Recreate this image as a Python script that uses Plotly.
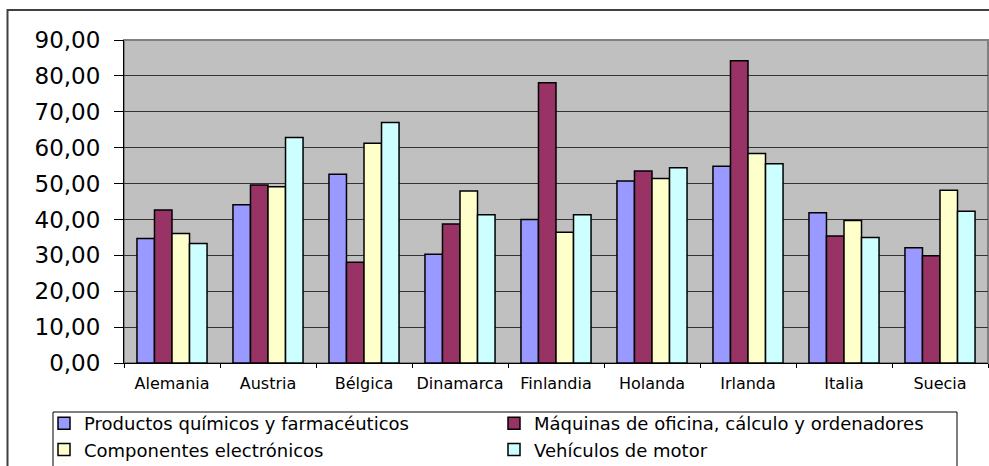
import plotly.graph_objects as go

# Countries on the category axis
countries = ["Alemania", "Austria", "Bélgica", "Dinamarca", "Finlandia",
             "Holanda", "Irlanda", "Italia", "Suecia"]

# One list of values per sector
quimicos = [34.7, 44.1, 52.6, 30.3, 40.0, 50.7, 54.8, 41.9, 32.1]
maquinas = [42.6, 49.6, 28.1, 38.7, 78.1, 53.5, 84.2, 35.4, 29.9]
componentes = [36.1, 49.1, 61.2, 47.9, 36.4, 51.4, 58.4, 39.7, 48.1]
vehiculos = [33.3, 62.8, 67.0, 41.3, 41.3, 54.4, 55.5, 35.0, 42.3]

series_names = ["Productos químicos y farmacéuticos",
                "Máquinas de oficina, cálculo y ordenadores",
                "Componentes electrónicos",
                "Vehículos de motor"]
series_values = [quimicos, maquinas, componentes, vehiculos]
series_colors = ["#9999FF", "#993366", "#FFFFCC", "#CCFFFF"]

y_ticks = [0, 10, 20, 30, 40, 50, 60, 70, 80, 90]

W, H = 989, 466
ML, MR, MT, MB = 124, 1, 40, 103
PW, PH = W - ML - MR, H - MT - MB


def px2x(px):
    return (px - ML) / PW


def py2y(py):
    return (H - MB - py) / PH


fig = go.Figure()
for name, vals, col in zip(series_names, series_values, series_colors):
    fig.add_trace(go.Bar(
        x=countries, y=vals, name=name,
        marker=dict(color=col, line=dict(color="black", width=1.5)),
    ))

font_family = "DejaVu Sans, Liberation Sans, Arial, sans-serif"

fig.update_layout(
    width=W, height=H,
    margin=dict(l=ML, r=MR, t=MT, b=MB, autoexpand=False),
    paper_bgcolor="white",
    plot_bgcolor="#C0C0C0",
    separators=",.",
    barmode="group",
    bargap=0.27,
    bargroupgap=0,
    font=dict(family=font_family, color="black"),
    showlegend=True,
    legend=dict(
        orientation="h",
        x=px2x(44), y=py2y(405),
        xanchor="left", yanchor="top",
        bgcolor="rgba(0,0,0,0)",
        borderwidth=0,
        font=dict(size=18, family=font_family),
        entrywidth=405, entrywidthmode="pixels",
        traceorder="normal",
    ),
    xaxis=dict(
        type="category",
        showgrid=False,
        showline=True, linecolor="black", linewidth=1,
        ticks="outside", tickson="boundaries", ticklen=4,
        tickcolor="black",
        tickfont=dict(size=16),
        ticklabelstandoff=6,
        zeroline=False,
    ),
    yaxis=dict(
        range=[0, 90],
        tickvals=y_ticks,
        tickformat=".2f",
        showgrid=True, gridcolor="#333333", gridwidth=1,
        showline=True, linecolor="black", linewidth=1,
        ticks="outside", ticklen=9, tickcolor="black",
        ticklabelstandoff=9,
        tickfont=dict(size=23),
        zeroline=False,
    ),
    shapes=[
        # plot-area frame (top and right edges)
        dict(type="rect", xref="paper", yref="paper", x0=0, x1=1, y0=0, y1=1,
             line=dict(color="#808080", width=2), layer="below"),
        # chart outer frame
        dict(type="rect", xref="paper", yref="paper",
             x0=px2x(7.5), x1=px2x(1000), y0=py2y(490), y1=py2y(10),
             line=dict(color="#404040", width=2)),
        # legend frame
        dict(type="rect", xref="paper", yref="paper",
             x0=px2x(53), x1=px2x(957), y0=py2y(490), y1=py2y(412),
             line=dict(color="black", width=1)),
    ],
)

fig.write_html("out.html")
